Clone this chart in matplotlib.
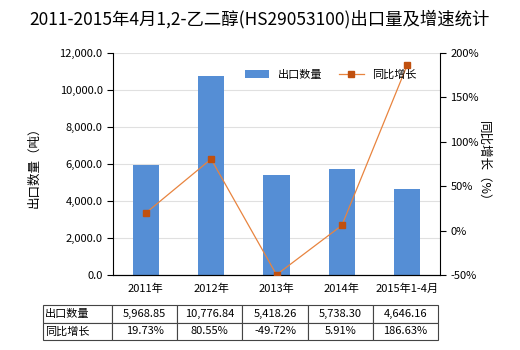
import numpy as np
import matplotlib
matplotlib.use('Agg')
import matplotlib.pyplot as plt
from matplotlib.ticker import FuncFormatter

plt.rcParams['font.family'] = ['Noto Sans CJK SC', 'DejaVu Sans']

# data
categories = ['2011年', '2012年', '2013年', '2014年', '2015年1-4月']
export_qty = [5968.85, 10776.84, 5418.26, 5738.30, 4646.16]
yoy_growth = [19.73, 80.55, -49.72, 5.91, 186.63]
qty_labels = ['5,968.85', '10,776.84', '5,418.26', '5,738.30', '4,646.16']
growth_labels = ['19.73%', '80.55%', '-49.72%', '5.91%', '186.63%']

bar_color = '#558ed5'
line_color = '#e8843f'
marker_color = '#c0500f'

fig = plt.figure(figsize=(5.2, 3.5), dpi=100)
ax = fig.add_axes([113/520, 1 - 275/350, 327/520, 222/350])
x = np.arange(len(categories))

ax.bar(x, export_qty, width=0.4, color=bar_color, label='出口数量', zorder=2)
ax.set_ylim(0, 12000)
ax.set_yticks(np.arange(0, 12001, 2000))
ax.yaxis.set_major_formatter(FuncFormatter(lambda v, p: f'{v:,.1f}'))
ax.grid(axis='y', color='#e0e0e0', linewidth=0.8, zorder=0)
ax.set_xlim(-0.5, len(categories) - 0.5)
ax.set_xticks(x)
ax.set_xticklabels(categories)
ax.tick_params(axis='x', length=0, labelsize=8, pad=6)
ax.tick_params(axis='y', labelsize=8, length=4, direction='out')
for s in ['top', 'right']:
    ax.spines[s].set_visible(False)
ax.set_ylabel('出口数量（吨）', fontsize=9, labelpad=14)

ax2 = ax.twinx()
ax2.plot(x, yoy_growth, color=line_color, linewidth=0.9, marker='s', markersize=4,
         markerfacecolor=marker_color, markeredgecolor=marker_color, label='同比增长', zorder=3)
ax2.set_ylim(-50, 200)
ax2.set_yticks(np.arange(-50, 201, 50))
ax2.yaxis.set_major_formatter(FuncFormatter(lambda v, p: f'{v:.0f}%'))
ax2.tick_params(axis='y', labelsize=8, length=4, direction='out')
for s in ['top', 'left']:
    ax2.spines[s].set_visible(False)
ax2.set_ylabel('同比增长（%）', fontsize=9, rotation=270, labelpad=8)

h1, l1 = ax.get_legend_handles_labels()
h2, l2 = ax2.get_legend_handles_labels()
leg = ax2.legend(h1 + h2, l1 + l2, loc='upper right', bbox_to_anchor=(0.96, 0.97), ncol=2,
                 frameon=False, fontsize=8, handlelength=2.2, columnspacing=1.5)

fig.text(0.5, 0.93, '2011-2015年4月1,2-乙二醇(HS29053100)出口量及增速统计',
         ha='center', fontsize=12.5)

# data table under the chart
tax = fig.add_axes([43/520, 1 - 340/350, 395/520, 35/350])
tax.axis('off')
cell_text = [['出口数量'] + qty_labels, ['同比增长'] + growth_labels]
col_w = [69/395] + [65.2/395] * 5
tbl = tax.table(cellText=cell_text, colWidths=col_w, bbox=[0, 0, 1, 1], cellLoc='center')
tbl.auto_set_font_size(False)
tbl.set_fontsize(8)
for (r, c), cell in tbl.get_celld().items():
    cell.set_edgecolor('#444444')
    cell.set_linewidth(0.8)
    if c == 0:
        cell._loc = 'left'
        cell.PAD = 0.03
        cell.get_text().set_ha('left')

fig.savefig('out.png', dpi=100)
